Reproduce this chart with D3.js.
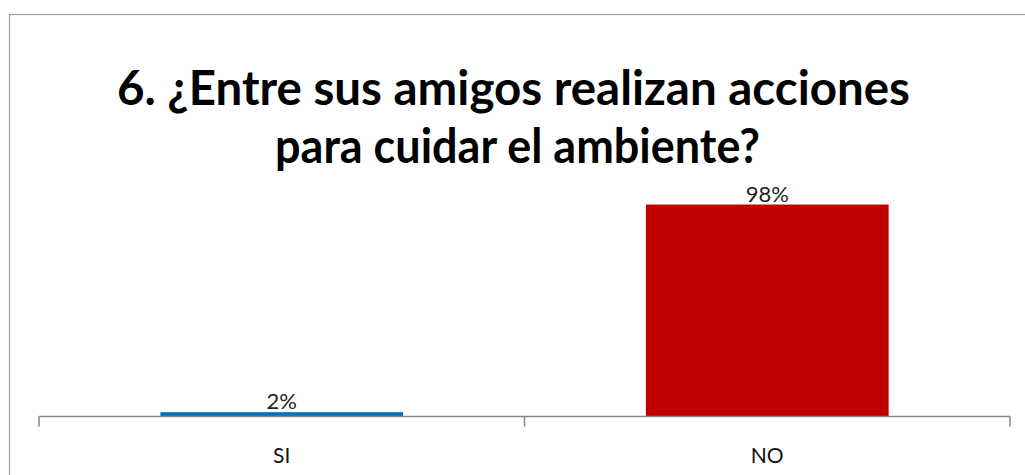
<!DOCTYPE html>
<html><head><meta charset="utf-8">
<script src="https://cdn.jsdelivr.net/npm/d3@7"></script>
<style>body{margin:0;background:#fff}svg{display:block}</style>
</head><body>
<svg id="c" width="1025" height="475"></svg>
<script>
const categories = ["SI", "NO"];
const values = [0.02, 0.98];
const valueLabels = ["2%", "98%"];
const barColors = ["#0070C0", "#C00000"];
const titleLines = ["6. ¿Entre sus amigos realizan acciones", "para cuidar el ambiente?"];

const svg = d3.select("#c");
const font = "Lato, 'Open Sans', sans-serif";

// frame
svg.append("rect").attr("x", 9.5).attr("y", 14.5).attr("width", 1040).attr("height", 500)
  .attr("fill", "#fff").attr("stroke", "#A0A0A0").attr("stroke-width", 1.2);

// title
const titleCx = [513.5, 517.5];
const titleY = [105, 163];
const titleW = [793, 485];
svg.append("g").selectAll("text").data(titleLines).join("text")
  .attr("x", (d, i) => titleCx[i]).attr("y", (d, i) => titleY[i]).attr("text-anchor", "middle")
  .attr("font-family", font).attr("font-weight", 700).attr("font-size", 47).attr("fill", "#000")
  .attr("textLength", (d, i) => titleW[i]).attr("lengthAdjust", "spacingAndGlyphs")
  .text(d => d);

// scales
const x = d3.scaleBand().domain(categories).range([39, 1010]).paddingInner(0.5).paddingOuter(0.25);
const y0 = 416.5;
const y = d3.scaleLinear().domain([0, 1]).range([y0, y0 - 216.3]);

// bars
svg.append("g").selectAll("rect").data(categories).join("rect")
  .attr("x", d => x(d)).attr("width", x.bandwidth())
  .attr("y", (d, i) => y(values[i])).attr("height", (d, i) => y(0) - y(values[i]))
  .attr("fill", (d, i) => barColors[i]);

// data labels
svg.append("g").selectAll("text").data(categories).join("text")
  .attr("x", d => x(d) + x.bandwidth() / 2).attr("y", (d, i) => y(values[i]) - 3)
  .attr("text-anchor", "middle").attr("font-family", font).attr("font-size", 22).attr("fill", "#222")
  .text((d, i) => valueLabels[i]);

// axis
const ax = svg.append("g");
const step = x.step();
const r0 = x.range()[0];
ax.append("line").attr("x1", r0).attr("x2", x.range()[1]).attr("y1", y0).attr("y2", y0)
  .attr("stroke", "#868686").attr("stroke-width", 1.5);
d3.range(categories.length + 1).forEach(i => {
  const tx = r0 + i * step;
  ax.append("line").attr("x1", tx).attr("x2", tx).attr("y1", y0).attr("y2", y0 + 10)
    .attr("stroke", "#868686").attr("stroke-width", 1.5);
});
ax.selectAll("text.cat").data(categories).join("text").attr("class", "cat")
  .attr("x", d => x(d) + x.bandwidth() / 2).attr("y", 463)
  .attr("text-anchor", "middle").attr("font-family", font).attr("font-size", 21).attr("fill", "#111")
  .text(d => d);
</script>
</body></html>
